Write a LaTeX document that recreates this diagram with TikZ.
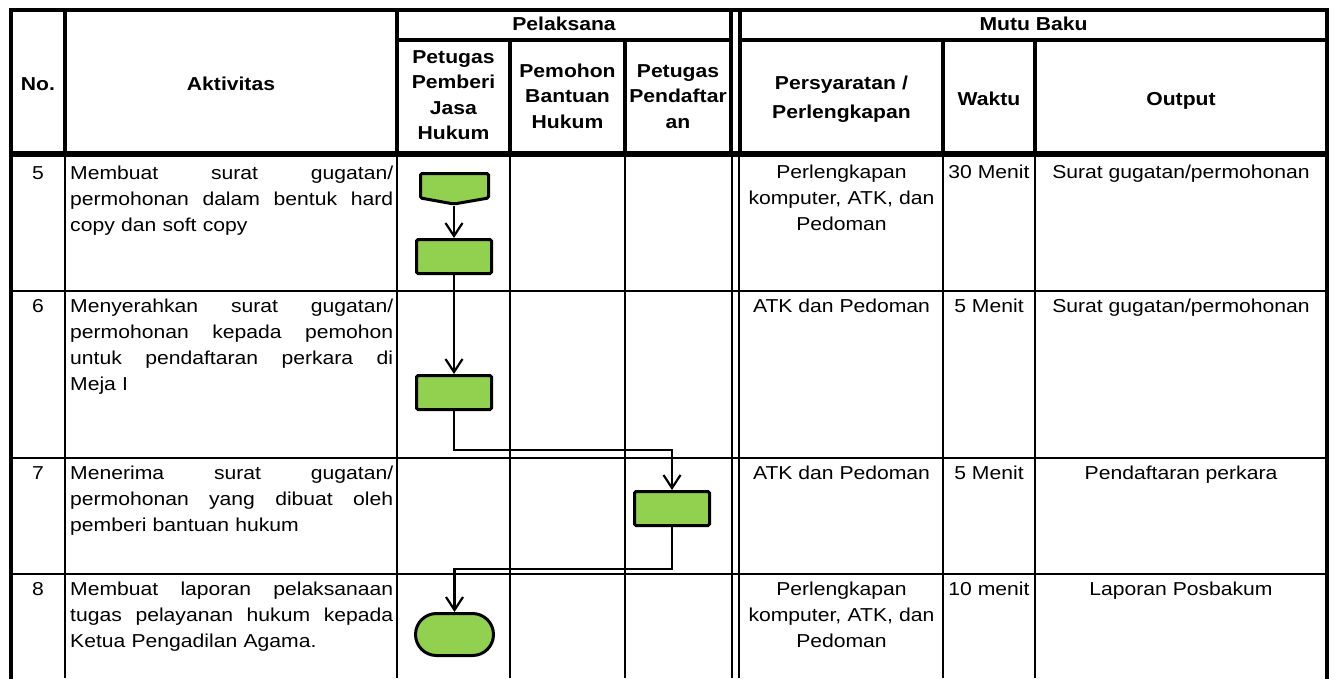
\documentclass[tikz,border=0pt]{standalone}
\usepackage{fontspec}
\setmainfont{Liberation Sans}[FakeStretch=1.13]
\usetikzlibrary{arrows.meta,shapes.misc}
\definecolor{boxgreen}{HTML}{92D050}
\newcommand\jline[1]{\leavevmode\hbox to 323pt{#1}}
\begin{document}
\begin{tikzpicture}[x=1pt,y=-1pt,
  thickln/.style={line width=4pt,line cap=rect},
  thinln/.style={line width=1.8pt},
  hairln/.style={line width=1.3pt},
  txt/.style={inner sep=0pt,font=\fontsize{18.7}{26}\selectfont},
  hdr/.style={inner sep=0pt,font=\bfseries\fontsize{18.7}{25.5}\selectfont},
  proc/.style={draw,line width=3pt,fill=boxgreen,minimum width=75pt,minimum height=34pt,rounded corners=1.5pt,inner sep=0pt},
  termbox/.style={draw,line width=3pt,fill=boxgreen,rounded rectangle,minimum width=78pt,minimum height=42pt,inner sep=0pt},
  conn/.style={line width=2.2pt,-{Straight Barb[length=13pt,width=17pt]}}]
\useasboundingbox (0,0) rectangle (1336,678);
% ---------- header lines ----------
\draw[thickln] (11,9.5) -- (1327,9.5);
\draw[thickln] (11,9.5) -- (11,678);
\draw[thickln] (1327,9.5) -- (1327,678);
\draw[thickln] (65,9.5) -- (65,152.5);
\draw[thickln] (397,9.5) -- (397,152.5);
\draw[thickln] (731,9.5) -- (731,152.5);
\draw[thickln] (740,9.5) -- (740,152.5);
\draw[thickln] (397,40) -- (731,40);
\draw[thickln] (740,40) -- (1327,40);
\draw[thickln] (510,40) -- (510,152.5);
\draw[thickln] (625,40) -- (625,152.5);
\draw[thickln] (943,40) -- (943,152.5);
\draw[thickln] (1035,40) -- (1035,152.5);
\draw[thickln] (11,152.5) -- (1327,152.5);
\draw[hairln] (11,156) -- (1327,156);
% ---------- body lines ----------
\foreach \xx in {65,397,510,625,732,739,943,1035}
  \draw[thinln] (\xx,156) -- (\xx,678);
\foreach \yy in {291,458,574}
  \draw[thinln] (11,\yy) -- (1327,\yy);
% ---------- header text ----------
\node[hdr,anchor=base] (hno) at (38,90.7) {No.};
\node[hdr,anchor=base] (hakt) at (231,90.7) {Aktivitas};
\node[hdr,anchor=base] (hpel) at (564,30.7) {Pelaksana};
\node[hdr,anchor=base] (hmutu) at (1033.5,30.7) {Mutu Baku};
\node[hdr,anchor=base,text width=110pt,align=center] (hpj) at (453.5,63) {Petugas\\Pemberi\\Jasa\\Hukum};
\node[hdr,anchor=base,text width=112pt,align=center] (hpb) at (567.5,77) {Pemohon\\Bantuan\\Hukum};
\node[hdr,anchor=base,text width=104pt,align=center] (hpp) at (678,77) {Petugas\\Pendaftar\\an};
\node[hdr,anchor=base,text width=200pt,align=center,font=\bfseries\fontsize{18.7}{29}\selectfont] (hper) at (841.5,89.3) {Persyaratan /\\Perlengkapan};
\node[hdr,anchor=base] (hwak) at (989,105) {Waktu};
\node[hdr,anchor=base] (hout) at (1181,105) {Output};
% ---------- row 5 ----------
\node[txt,anchor=base] (n5) at (38,179) {5};
\node[txt,anchor=base west,text width=323pt,align=left] (a5) at (70,179)
  {\jline{Membuat\hfill surat\hfill gugatan/}\\\jline{permohonan\hfill dalam\hfill bentuk\hfill hard}\\copy dan soft copy};
\node[txt,anchor=base,text width=200pt,align=center] (p5) at (841.5,178)
  {Perlengkapan\\komputer, ATK, dan\\Pedoman};
\node[txt,anchor=base] (w5) at (989,178) {30 Menit};
\node[txt,anchor=base] (o5) at (1181,178) {Surat gugatan/permohonan};
% ---------- row 6 ----------
\node[txt,anchor=base] (n6) at (38,312) {6};
\node[txt,anchor=base west,text width=323pt,align=left] (a6) at (70,312)
  {\jline{Menyerahkan\hfill surat\hfill gugatan/}\\\jline{permohonan\hfill kepada\hfill pemohon}\\\jline{untuk\hfill pendaftaran\hfill perkara\hfill di}\\Meja I};
\node[txt,anchor=base] (p6) at (841.5,312) {ATK dan Pedoman};
\node[txt,anchor=base] (w6) at (989,312) {5 Menit};
\node[txt,anchor=base] (o6) at (1181,312) {Surat gugatan/permohonan};
% ---------- row 7 ----------
\node[txt,anchor=base] (n7) at (38,479) {7};
\node[txt,anchor=base west,text width=323pt,align=left] (a7) at (70,479)
  {\jline{Menerima\hfill surat\hfill gugatan/}\\\jline{permohonan\hfill yang\hfill dibuat\hfill oleh}\\pemberi bantuan hukum};
\node[txt,anchor=base] (p7) at (841.5,479) {ATK dan Pedoman};
\node[txt,anchor=base] (w7) at (989,479) {5 Menit};
\node[txt,anchor=base] (o7) at (1181,479) {Pendaftaran perkara};
% ---------- row 8 ----------
\node[txt,anchor=base] (n8) at (38,595) {8};
\node[txt,anchor=base west,text width=323pt,align=left] (a8) at (70,595)
  {\jline{Membuat\hfill laporan\hfill pelaksanaan}\\\jline{tugas\hfill pelayanan\hfill hukum\hfill kepada}\\Ketua Pengadilan Agama.};
\node[txt,anchor=base,text width=200pt,align=center] (p8) at (841.5,595)
  {Perlengkapan\\komputer, ATK, dan\\Pedoman};
\node[txt,anchor=base] (w8) at (989,595) {10 menit};
\node[txt,anchor=base] (o8) at (1181,595) {Laporan Posbakum};
% ---------- flow shapes ----------
\draw[line width=3pt,fill=boxgreen,rounded corners=1.5pt]
  (420.5,173.5) -- (488.5,173.5) -- (488.5,198) -- (454,204) -- (420.5,198) -- cycle;
\coordinate (op) at (454,205.5);
\node[proc] (r1) at (454,256.5) {};
\node[proc] (r2) at (454,392.5) {};
\node[proc] (r3) at (672,508.5) {};
\node[termbox] (t8) at (454.5,634.5) {};
% ---------- connectors ----------
\draw[conn] (op) -- (r1.north);
\draw[conn] (r1.south) -- (r2.north);
\draw[conn] (r2.south) -- ++(0,39) -| (r3.north);
\draw[conn] (r3.south) -- ++(0,42) -| (t8.north);
\end{tikzpicture}
\end{document}
